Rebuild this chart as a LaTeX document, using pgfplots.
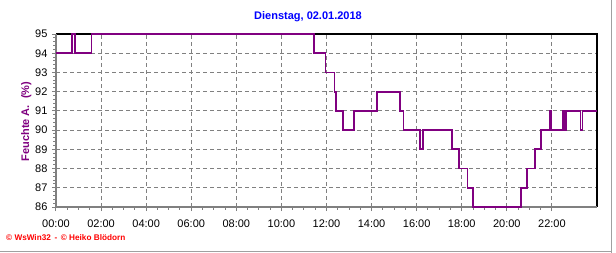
\documentclass[border=0pt]{standalone}
\usepackage{fontspec}
\setmainfont{Liberation Sans}
\usepackage{pgfplots}
\pgfplotsset{compat=1.18}
\definecolor{lineviolet}{HTML}{800080}
\definecolor{gridgray}{HTML}{808080}
\definecolor{titleblue}{HTML}{0000FF}
\definecolor{framegray}{HTML}{A0A0A0}
\begin{document}
\begin{tikzpicture}
\path[use as bounding box, fill=white] (0,0) rectangle (616bp,253bp);
\draw[framegray, line width=1bp] (611.5bp,0) -- (611.5bp,253bp);
\draw[framegray, line width=1bp] (0,1.5bp) -- (611.5bp,1.5bp);
\begin{axis}[
  at={(56bp,46bp)}, anchor=south west,
  scale only axis, width=541bp, height=173bp,
  xmin=0, xmax=24, ymin=86, ymax=95,
  xtick={0,2,4,6,8,10,12,14,16,18,20,22},
  xticklabels={00:00,02:00,04:00,06:00,08:00,10:00,12:00,14:00,16:00,18:00,20:00,22:00},
  ytick={86,87,88,89,90,91,92,93,94,95},
  minor x tick num=3,
  minor y tick num=4,
  tick pos=left, tick align=outside,
  major tick length=4bp, minor tick length=2.5bp,
  every tick/.style={gridgray, line width=1bp},
  grid=major,
  major grid style={gridgray, line width=1bp, dash pattern=on 4bp off 3bp},
  axis line style={draw=none},
  axis on top=false,
  tick label style={font=\fontsize{11bp}{13bp}\selectfont, text=black},
  /pgf/number format/assume math mode=true,
  xticklabel style={yshift=-5bp},
  yticklabel style={xshift=-1bp},
  ylabel={Feuchte A.\ \ (\%)},
  ylabel style={at={(axis description cs:-0.055,0.494)}, anchor=center, rotate=0,
    font=\bfseries\fontsize{11bp}{13bp}\selectfont, text=lineviolet},
  clip=false,
]
\draw[black, line width=1.5bp] (rel axis cs:0,1) -- (rel axis cs:1,1) -- (rel axis cs:1,0);
\draw[gridgray, line width=2bp] (rel axis cs:0,1) -- (rel axis cs:0,0) -- (rel axis cs:1,0);
\addplot[const plot, draw=lineviolet, line width=1.7bp] coordinates {
(0,94) (0.70,95) (0.85,94) (1.58,95) (11.46,94) (11.96,93) (12.35,92) (12.42,91)
(12.74,90) (13.23,91) (14.25,92) (15.25,91) (15.42,90) (16.15,89) (16.27,90)
(17.56,89) (17.88,88) (18.25,87) (18.49,86) (20.64,87) (20.90,88) (21.24,89)
(21.50,90) (21.90,91) (21.97,90) (22.48,91) (22.58,90) (22.64,91) (23.27,90)
(23.36,91) (24,91)
};
\end{axis}
\node[titleblue, font=\bfseries\fontsize{11bp}{13bp}\selectfont] at (308bp,236bp) {Dienstag, 02.01.2018};
\node[red, anchor=west, inner sep=0pt, font=\bfseries\fontsize{8.2bp}{9bp}\selectfont] at (6bp,15bp) {© WsWin32 \,-\, © Heiko Blödorn};
\end{tikzpicture}
\end{document}
